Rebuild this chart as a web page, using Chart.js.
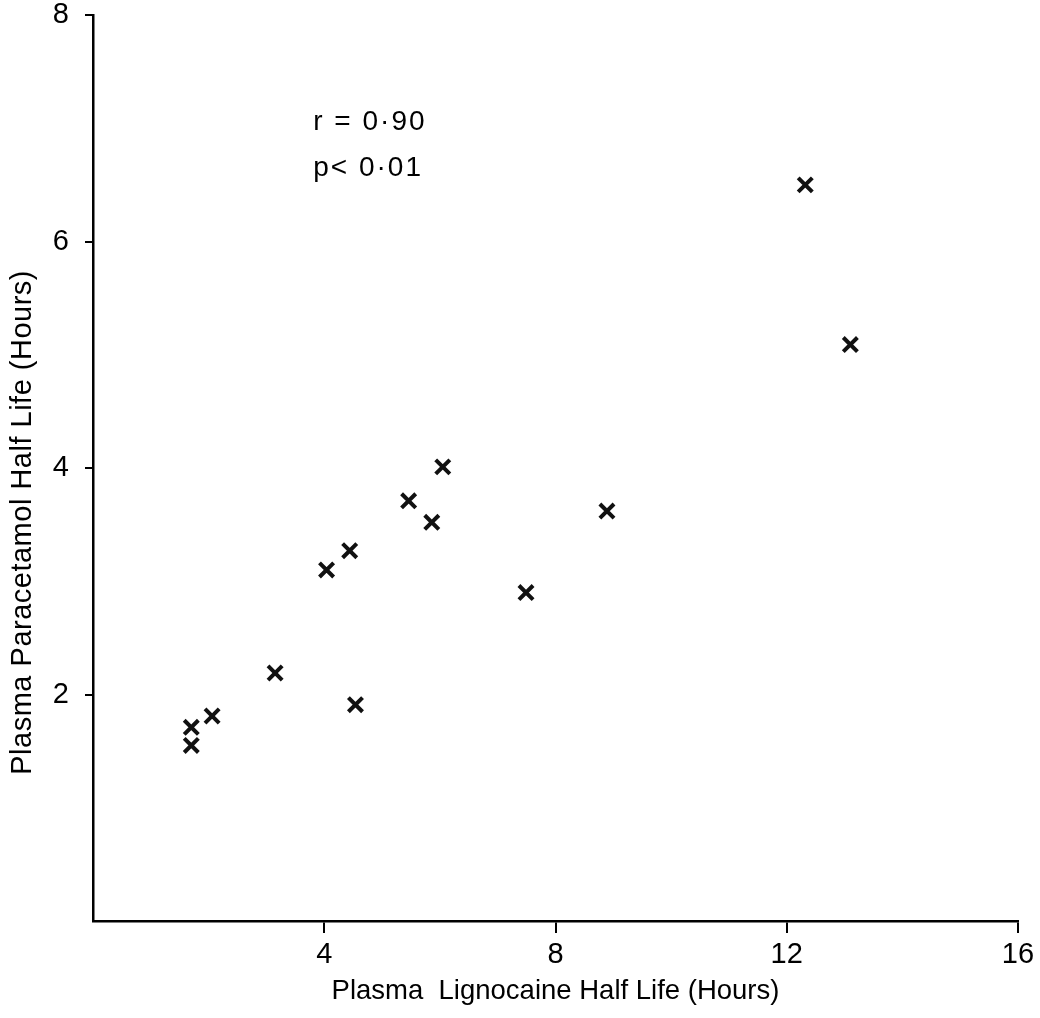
<!DOCTYPE html>
<html>
<head>
<meta charset="utf-8">
<script src="https://cdn.jsdelivr.net/npm/chart.js@4"></script>
<style>
  html, body { margin: 0; padding: 0; background: #fff; }
  #wrap { width: 1040px; height: 1018px; }
</style>
</head>
<body>
<div id="wrap"><canvas id="scatter"></canvas></div>
<script>
// lignocaine half life (x) vs paracetamol half life (y), hours
var lignocaine  = [1.70, 1.70, 2.06, 3.15, 4.04, 4.44, 4.54, 5.46, 5.86, 6.05, 7.49, 8.89, 12.32, 13.10];
var paracetamol = [1.55, 1.71, 1.81, 2.19, 3.10, 3.27, 1.91, 3.71, 3.52, 4.01, 2.90, 3.62, 6.50, 5.09];
var xTicks = [4, 8, 12, 16];
var yTicks = [2, 4, 6, 8];
var statsText = ['r = 0\u00b790', 'p< 0\u00b701'];
var statsAt = [[3.81, 7.05], [3.81, 6.65]];
var yTitle = 'Plasma Paracetamol Half Life (Hours)';
var yTitleAt = 3.52;

var FONT = '"Liberation Sans", Arial, sans-serif';
var points = lignocaine.map(function (x, i) { return { x: x, y: paracetamol[i] }; });

var labels = {
    id: 'labels',
    afterDraw: function (chart) {
        var c = chart.ctx;
        var sx = chart.scales.x, sy = chart.scales.y;
        c.save();
        c.fillStyle = '#000';
        c.font = '28px ' + FONT;
        c.letterSpacing = '2px';
        c.textBaseline = 'middle';
        statsText.forEach(function (t, i) {
            c.fillText(t, sx.getPixelForValue(statsAt[i][0]), sy.getPixelForValue(statsAt[i][1]));
        });
        c.letterSpacing = '0.5px';
        c.font = '29px ' + FONT;
        c.translate(23, sy.getPixelForValue(yTitleAt));
        c.rotate(-Math.PI / 2);
        c.textAlign = 'center';
        c.fillText(yTitle, 0, 0);
        c.restore();
    }
};

var ctx = document.getElementById('scatter').getContext('2d');
var myChart = new Chart(ctx, {
    type: 'scatter',
    data: {
        datasets: [{
            label: 'Patients',
            data: points,
            pointStyle: 'crossRot',
            pointRadius: 10,
            pointBorderWidth: 4,
            borderColor: '#111',
            backgroundColor: '#111'
        }]
    },
    options: {
        responsive: true,
        maintainAspectRatio: false,
        animation: false,
        layout: { padding: { top: 15, right: 22, left: 0, bottom: 10 } },
        plugins: { legend: { display: false }, tooltip: { enabled: false } },
        scales: {
            x: {
                type: 'linear',
                min: 0, max: 16,
                afterBuildTicks: function (s) { s.ticks = xTicks.map(function (v) { return { value: v }; }); },
                afterFit: function (s) { s.height = 87; s.paddingLeft = 0; s.paddingRight = 0; },
                border: { display: true, color: '#000', width: 2.5 },
                grid: { drawOnChartArea: false, drawTicks: true, tickLength: 12, color: '#000', lineWidth: 2 },
                ticks: { color: '#000', padding: 5, maxRotation: 0, font: { family: FONT, size: 29 } },
                title: { display: true, text: 'Plasma  Lignocaine Half Life (Hours)', color: '#000',
                         padding: { top: 0, bottom: 0 }, font: { family: FONT, size: 27.5 } }
            },
            y: {
                type: 'linear',
                min: 0, max: 8,
                afterBuildTicks: function (s) { s.ticks = yTicks.map(function (v) { return { value: v }; }); },
                afterFit: function (s) { s.width = 93; s.paddingTop = 0; s.paddingBottom = 0; },
                border: { display: true, color: '#000', width: 2.5 },
                grid: { drawOnChartArea: false, drawTicks: true, tickLength: 8, color: '#000', lineWidth: 2 },
                ticks: { color: '#000', padding: 16, font: { family: FONT, size: 29 } }
            }
        }
    },
    plugins: [labels]
});
</script>
</body>
</html>
